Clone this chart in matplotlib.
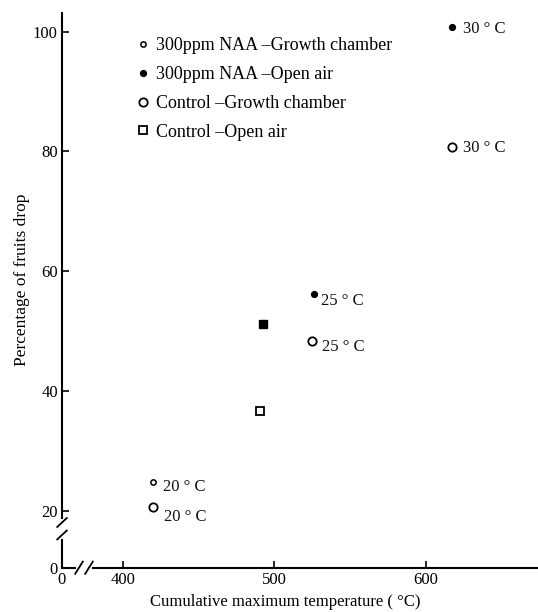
import numpy as np
import matplotlib
matplotlib.use("Agg")
import matplotlib.pyplot as plt
from matplotlib.lines import Line2D

plt.rcParams['font.family'] = ['Liberation Serif', 'DejaVu Serif']
plt.rcParams['mathtext.default'] = 'regular'

# ---- data ----
naa_gc_x = [420]
naa_gc_y = [24.8]
naa_gc_lbl = ["20 ° C"]

naa_oa_x = [617, 526]
naa_oa_y = [100.8, 56.1]
naa_oa_lbl = ["30 ° C", "25 ° C"]

ctl_gc_x = [617, 525, 420]
ctl_gc_y = [80.8, 48.4, 20.6]
ctl_gc_lbl = ["30 ° C", "25 ° C", "20 ° C"]

ctl_oa_x = [490.5]
ctl_oa_y = [36.6]

extra_sq_x = [492.3]
extra_sq_y = [51.2]

x_ticks = [0, 400, 500, 600]
y_ticks = [0, 20, 40, 60, 80, 100]

legend_labels = ["300ppm NAA –Growth chamber", "300ppm NAA –Open air",
                 "Control –Growth chamber", "Control –Open air"]
x_label = "Cumulative maximum temperature ( °C)"
y_label = "Percentage of fruits drop"

# ---- broken-axis scales ----
CX = 0.1
CY = 0.477

def fx(x):
    x = np.asarray(x, dtype=float)
    return np.where(x < 400, 400 - (400 - x) * CX, x)

def fx_inv(u):
    u = np.asarray(u, dtype=float)
    return np.where(u < 400, 400 - (400 - u) / CX, u)

def fy(y):
    y = np.asarray(y, dtype=float)
    return np.where(y < 20, 20 - (20 - y) * CY, y)

def fy_inv(u):
    u = np.asarray(u, dtype=float)
    return np.where(u < 20, 20 - (20 - u) / CY, u)

W, H = 538, 612
fig = plt.figure(figsize=(W / 100, H / 100), dpi=100)
ax = fig.add_axes([62 / W, 1 - 567.7 / H, 1 - 62 / W, (567.7 - 13) / H])
ax.set_xscale('function', functions=(fx, fx_inv))
ax.set_yscale('function', functions=(fy, fy_inv))
ax.set_xlim(0, 674)
ax.set_ylim(0, 103.1)

for s in ax.spines.values():
    s.set_visible(False)

FS = 12
kw = dict(linestyle='none', clip_on=False)
h1, = ax.plot(naa_gc_x, naa_gc_y, marker='o', ms=3.8, mfc='white', mec='black', mew=1.1, **kw)
h2, = ax.plot(naa_oa_x, naa_oa_y, marker='o', ms=4.2, mfc='black', mec='black', mew=1.0, **kw)
h3, = ax.plot(ctl_gc_x, ctl_gc_y, marker='o', ms=6.0, mfc='white', mec='black', mew=1.3, **kw)
h4, = ax.plot(ctl_oa_x, ctl_oa_y, marker='s', ms=5.2, mfc='white', mec='black', mew=1.3, **kw)
ax.plot(extra_sq_x, extra_sq_y, marker='s', ms=6.2, mfc='black', mec='black', **kw)

# point annotations
def annotate(xs, ys, labels, offs):
    for x, y, t, (dx, dy) in zip(xs, ys, labels, offs):
        ax.annotate(t, (x, y), xytext=(dx, dy), textcoords='offset points',
                    ha='left', va='center', fontsize=FS, color='#111111')

annotate(naa_gc_x, naa_gc_y, naa_gc_lbl, [(7, -4)])
annotate(naa_oa_x, naa_oa_y, naa_oa_lbl, [(8, -1.5), (5, -4.5)])
annotate(ctl_gc_x, ctl_gc_y, ctl_gc_lbl, [(8, -1), (7, -4.5), (8, -7)])

# axis lines with breaks (axes coordinates)
lw = 1.5
tr = ax.transAxes
ax.add_line(Line2D([0, 0], [0.0899, 1], transform=tr, color='black', lw=lw, clip_on=False))
ax.add_line(Line2D([0, 0], [0, 0.0499], transform=tr, color='black', lw=lw, clip_on=False))
ax.add_line(Line2D([0, 0.0273], [0, 0], transform=tr, color='black', lw=lw, clip_on=False))
ax.add_line(Line2D([0.065, 1], [0, 0], transform=tr, color='black', lw=lw, clip_on=False))
# slashes on y axis
for yc in (0.0815, 0.059):
    ax.add_line(Line2D([-0.010, 0.010], [yc - 0.008, yc + 0.008], transform=tr,
                       color='black', lw=1.3, clip_on=False))
# slashes on x axis
for xc in (0.0357, 0.0567):
    ax.add_line(Line2D([xc - 0.008, xc + 0.008], [-0.011, 0.011], transform=tr,
                       color='black', lw=1.3, clip_on=False))

ax.set_xticks(x_ticks)
ax.set_xticklabels([str(v) for v in x_ticks])
ax.set_yticks(y_ticks)
ax.set_yticklabels([str(v) for v in y_ticks])
ax.minorticks_off()
ax.tick_params(direction='in', length=5, width=1.2, labelsize=FS, pad=3,
               colors='black')

ax.set_xlabel(x_label, fontsize=FS)
ax.xaxis.set_label_coords((285 - 62) / (W - 62), -(602 - 567.7) / (567.7 - 13))
ax.xaxis.label.set_va('center')
ax.set_ylabel(y_label, fontsize=12.5)
ax.yaxis.set_label_coords(-(62 - 22) / (W - 62), (567.7 - 280) / (567.7 - 13))
ax.yaxis.label.set_va('center')

leg = ax.legend([h1, h2, h3, h4], legend_labels, frameon=False, fontsize=13,
                loc='upper left', bbox_to_anchor=(136 / W, 1 - 37 / H),
                bbox_transform=fig.transFigure, borderpad=0, borderaxespad=0,
                handlelength=0.75, handletextpad=0.38, labelspacing=0.66,
                numpoints=1)

fig.savefig("out.png", dpi=100, facecolor='white')
